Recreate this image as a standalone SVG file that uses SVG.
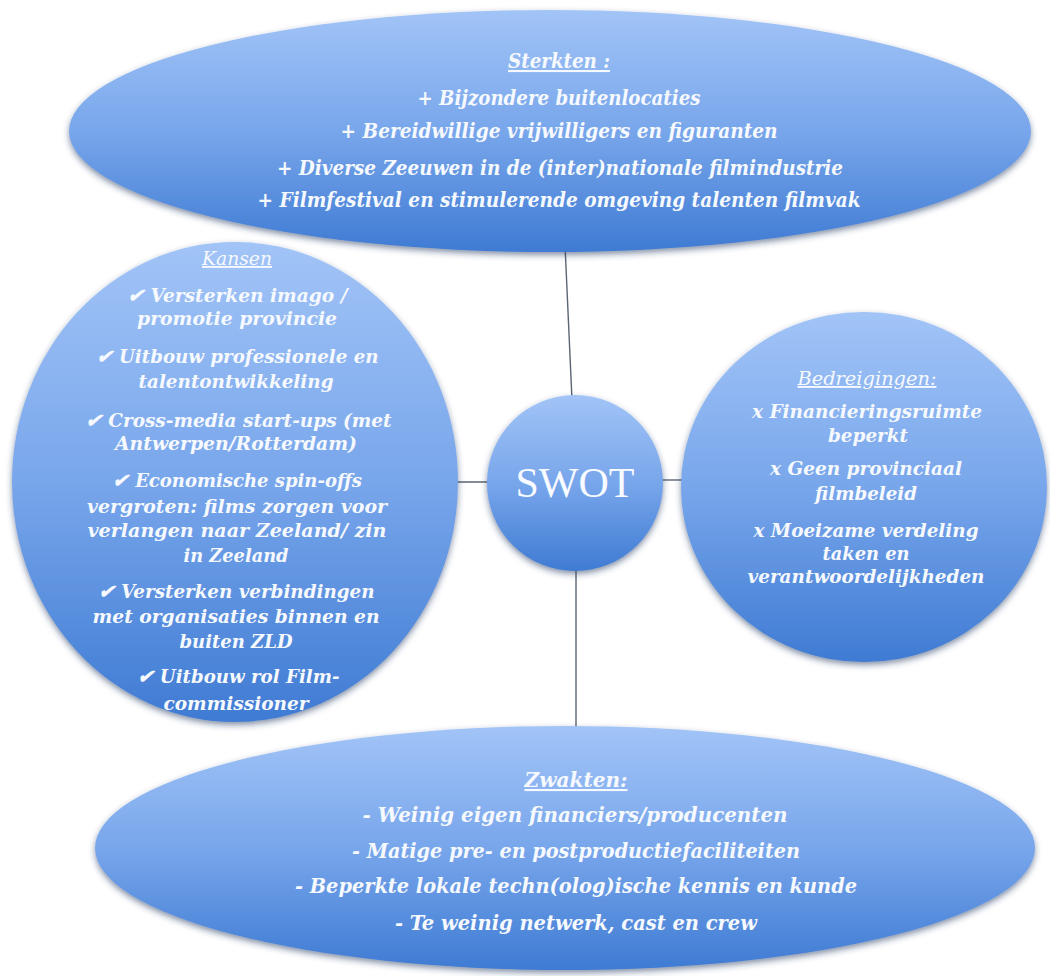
<svg xmlns="http://www.w3.org/2000/svg" width="1050" height="976" viewBox="0 0 1050 976">
<defs>
<linearGradient id="blue" x1="0" y1="0" x2="0" y2="1">
<stop offset="0" stop-color="#a2c4f7"/>
<stop offset="0.5" stop-color="#78a6eb"/>
<stop offset="1" stop-color="#3f7bd3"/>
</linearGradient>
<filter id="sh" x="-10%" y="-10%" width="120%" height="125%">
<feDropShadow dx="0" dy="3" stdDeviation="3" flood-color="#1d3660" flood-opacity="0.55"/>
</filter>
<style>
.node{fill:url(#blue);filter:url(#sh);}
.t{font-family:"DejaVu Serif Condensed","DejaVu Serif",serif;font-style:italic;font-weight:bold;font-size:21px;fill:#f6f9fd;text-anchor:middle;}
.s{font-size:19px;}
.h{font-weight:normal;text-decoration:underline;}
.c{stroke:#5b6573;stroke-width:1.4;fill:none;}
.swot{font-family:"Liberation Serif",serif;font-size:42px;fill:#f8fbff;text-anchor:middle;}
</style>
</defs>
<rect width="1050" height="976" fill="#ffffff"/>
<g id="connectors">
<line class="c" x1="565" y1="245" x2="572" y2="400"/>
<line class="c" x1="452" y1="482" x2="492" y2="482"/>
<line class="c" x1="658" y1="480" x2="686" y2="480"/>
<line class="c" x1="576" y1="565" x2="576" y2="732"/>
</g>
<g id="sterkten">
<ellipse class="node" cx="550" cy="131" rx="481" ry="121"/>
<text class="t" x="559" y="68" textLength="102" lengthAdjust="spacingAndGlyphs" text-decoration="underline">Sterkten :</text>
<text class="t" x="559" y="105" textLength="283" lengthAdjust="spacingAndGlyphs">+ Bijzondere buitenlocaties</text>
<text class="t" x="559" y="138" textLength="437" lengthAdjust="spacingAndGlyphs">+ Bereidwillige vrijwilligers en figuranten</text>
<text class="t" x="560" y="175" textLength="566" lengthAdjust="spacingAndGlyphs">+ Diverse Zeeuwen in de (inter)nationale filmindustrie</text>
<text class="t" x="559" y="207" textLength="603" lengthAdjust="spacingAndGlyphs">+ Filmfestival en stimulerende omgeving talenten filmvak</text>
</g>
<g id="kansen">
<ellipse class="node" cx="235" cy="482" rx="223" ry="240"/>
<text class="t s h" x="237" y="265" textLength="70" lengthAdjust="spacingAndGlyphs">Kansen</text>
<text class="t s" x="237" y="302" textLength="221" lengthAdjust="spacingAndGlyphs">✔ Versterken imago /</text>
<text class="t s" x="237" y="325" textLength="200" lengthAdjust="spacingAndGlyphs">promotie provincie</text>
<text class="t s" x="237" y="363" textLength="283" lengthAdjust="spacingAndGlyphs">✔ Uitbouw professionele en</text>
<text class="t s" x="236" y="388" textLength="195" lengthAdjust="spacingAndGlyphs">talentontwikkeling</text>
<text class="t s" x="238" y="427" textLength="307" lengthAdjust="spacingAndGlyphs">✔ Cross-media start-ups (met</text>
<text class="t s" x="236" y="450" textLength="242" lengthAdjust="spacingAndGlyphs">Antwerpen/Rotterdam)</text>
<text class="t s" x="237" y="487" textLength="250" lengthAdjust="spacingAndGlyphs">✔ Economische spin-offs</text>
<text class="t s" x="237" y="513" textLength="300" lengthAdjust="spacingAndGlyphs">vergroten: films zorgen voor</text>
<text class="t s" x="237" y="537" textLength="299" lengthAdjust="spacingAndGlyphs">verlangen naar Zeeland/ zin</text>
<text class="t s" x="236" y="562" textLength="105" lengthAdjust="spacingAndGlyphs">in Zeeland</text>
<text class="t s" x="236" y="598" textLength="277" lengthAdjust="spacingAndGlyphs">✔ Versterken verbindingen</text>
<text class="t s" x="236" y="623" textLength="287" lengthAdjust="spacingAndGlyphs">met organisaties binnen en</text>
<text class="t s" x="236" y="648" textLength="113" lengthAdjust="spacingAndGlyphs">buiten ZLD</text>
<text class="t s" x="238" y="683" textLength="203" lengthAdjust="spacingAndGlyphs">✔ Uitbouw rol Film-</text>
<text class="t s" x="236" y="710" textLength="145" lengthAdjust="spacingAndGlyphs">commissioner</text>
</g>
<g id="swot">
<circle class="node" cx="575" cy="483" r="88"/>
<text class="swot" x="575" y="497">SWOT</text>
</g>
<g id="bedreigingen">
<ellipse class="node" cx="864" cy="487" rx="183" ry="175"/>
<text class="t s h" x="867" y="385" textLength="139" lengthAdjust="spacingAndGlyphs">Bedreigingen:</text>
<text class="t s" x="867" y="418" textLength="230" lengthAdjust="spacingAndGlyphs">x Financieringsruimte</text>
<text class="t s" x="868" y="442" textLength="80" lengthAdjust="spacingAndGlyphs">beperkt</text>
<text class="t s" x="866" y="475" textLength="192" lengthAdjust="spacingAndGlyphs">x Geen provinciaal</text>
<text class="t s" x="866" y="500" textLength="102" lengthAdjust="spacingAndGlyphs">filmbeleid</text>
<text class="t s" x="866" y="537" textLength="225" lengthAdjust="spacingAndGlyphs">x Moeizame verdeling</text>
<text class="t s" x="866" y="560" textLength="87" lengthAdjust="spacingAndGlyphs">taken en</text>
<text class="t s" x="866" y="583" textLength="237" lengthAdjust="spacingAndGlyphs">verantwoordelijkheden</text>
</g>
<g id="zwakten">
<ellipse class="node" cx="565" cy="848" rx="470" ry="122"/>
<text class="t" x="576" y="787" textLength="103" lengthAdjust="spacingAndGlyphs" text-decoration="underline">Zwakten:</text>
<text class="t" x="575" y="822" textLength="425" lengthAdjust="spacingAndGlyphs">-  Weinig eigen financiers/producenten</text>
<text class="t" x="576" y="858" textLength="448" lengthAdjust="spacingAndGlyphs">-  Matige pre- en postproductiefaciliteiten</text>
<text class="t" x="576" y="893" textLength="562" lengthAdjust="spacingAndGlyphs">-  Beperkte lokale techn(olog)ische kennis en kunde</text>
<text class="t" x="576" y="930" textLength="362" lengthAdjust="spacingAndGlyphs">- Te weinig netwerk, cast en crew</text>
</g>
</svg>
